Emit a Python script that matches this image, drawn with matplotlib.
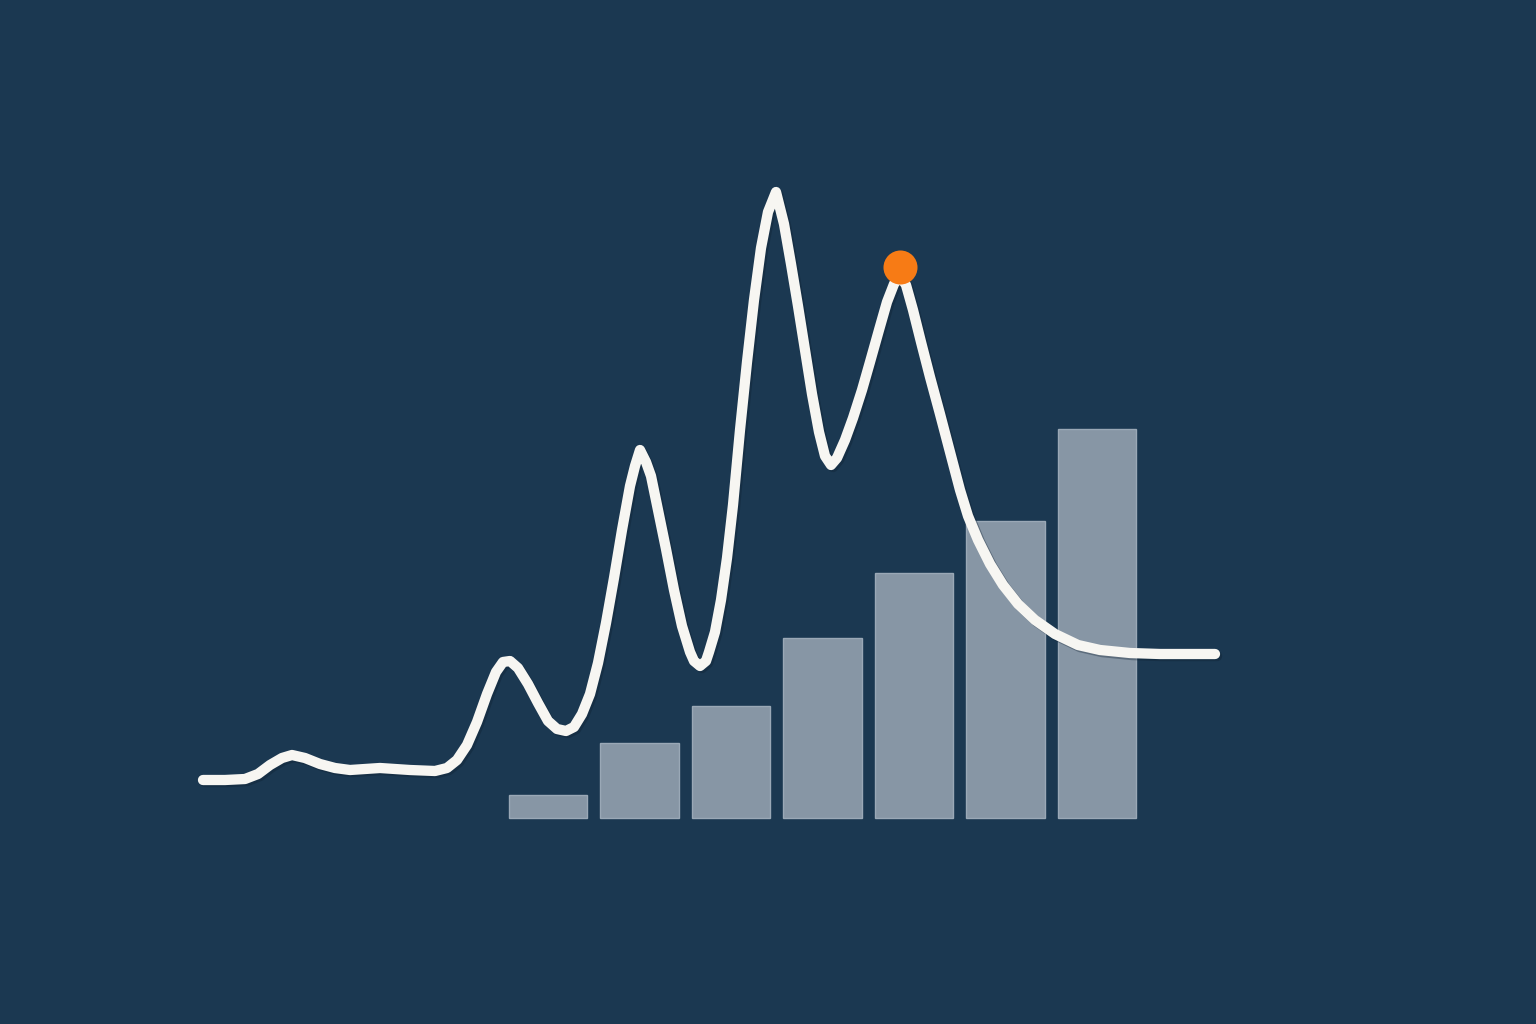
import matplotlib
matplotlib.use("Agg")
import matplotlib.pyplot as plt
import matplotlib.patheffects as pe

# bar series (7 categories)
bar_cats = [0, 1, 2, 3, 4, 5, 6]
bar_vals = [5.8, 18.8, 28.0, 45.0, 61.3, 74.3, 97.3]

# line series: t, value
line_t = [0.0, 2.2, 4.2, 5.5, 6.7, 7.9, 8.9, 10.2, 11.7, 13.2, 14.7, 17.7, 20.7,
          23.2, 24.4, 25.4, 26.4, 27.4, 28.4, 29.3, 30.0, 30.7, 31.5, 32.5, 33.5,
          34.5, 35.4, 36.3, 37.1, 37.9, 38.7, 39.5, 40.3, 41.1, 41.9, 42.7, 43.2,
          43.7, 44.3, 44.8, 45.5, 46.3, 47.1, 47.9, 48.7, 49.1, 49.7, 50.3, 50.6, 51.2,
          51.8, 52.4, 53.0, 53.7, 54.4, 55.1, 55.8, 56.5, 57.3, 58.1, 58.8,
          59.5, 60.2, 60.9, 61.6, 62.2, 62.8, 63.4, 64.2, 65.0, 65.9, 66.7, 67.6,
          68.4, 69.1, 69.7, 70.3, 71.0, 71.8, 72.7, 73.7, 74.7, 75.7, 76.5, 77.5,
          78.7, 80.0, 81.5, 83.2, 85.2, 87.5, 89.7, 92.7, 95.7, 98.7, 101.2]
line_v = [9.5, 9.5, 9.75, 11.0, 13.25, 15.0, 15.75, 15.0, 13.5, 12.5, 12.0, 12.5, 12.0,
          11.75, 12.5, 14.5, 18.25, 24.0, 31.0, 36.5, 39.0, 39.25, 37.5, 33.5, 28.75,
          24.25, 22.25, 21.75, 22.75, 26.0, 31.0, 38.75, 48.75, 60.0, 72.0, 83.0, 88.0,
          92.0, 89.0, 85.5, 77.0, 67.25, 57.0, 48.0, 41.5, 39.25, 38.0, 39.25, 41.5, 46.5,
          54.5, 65.0, 78.25, 97.0, 114.0, 129.5, 142.5, 151.5, 156.5, 148.5, 138.5,
          128.0, 117.0, 106.0, 96.5, 90.5, 88.25, 90.0, 94.5, 100.0, 107.0, 114.0, 122.0,
          129.0, 133.5, 135.5, 133.25, 127.0, 119.0, 110.25, 101.0, 91.5, 82.0, 75.5, 69.5,
          63.5, 58.25, 53.5, 49.5, 46.0, 43.25, 42.0, 41.25, 41.0, 41.0, 41.0]

# highlighted point
hl_t = [69.7]
hl_v = [137.75]

BG = "#1b3851"
BAR = "#8796a5"
LINE = "#f7f6f2"
ORANGE = "#f77b15"

fig = plt.figure(figsize=(15.36, 10.24), dpi=100, facecolor=BG)

ax_bar = fig.add_axes([0, 0, 1, 1])
ax_bar.set_facecolor(BG)
ax_bar.bar(bar_cats, bar_vals, width=0.86, color=BAR, edgecolor="#9aa8b6", linewidth=1.0)
ax_bar.set_xlim(-5.99, 10.80)
ax_bar.set_ylim(-51.5, 204.5)
ax_bar.axis("off")

ax = fig.add_axes([0, 0, 1, 1])
ax.patch.set_alpha(0)
ax.plot(line_t, line_v, color=LINE, lw=7.4, solid_capstyle="round", solid_joinstyle="round",
        path_effects=[pe.SimpleLineShadow(offset=(1.5, -1.5), shadow_color="#0d1f30", alpha=0.35),
                      pe.Normal()])
ax.plot(hl_t, hl_v, "o", color=ORANGE, markersize=24.5, markeredgewidth=0, zorder=5)
ax.set_xlim(-20.3, 133.3)
ax.set_ylim(-51.5, 204.5)
ax.axis("off")

fig.savefig("out.png", dpi=100, facecolor=BG)
